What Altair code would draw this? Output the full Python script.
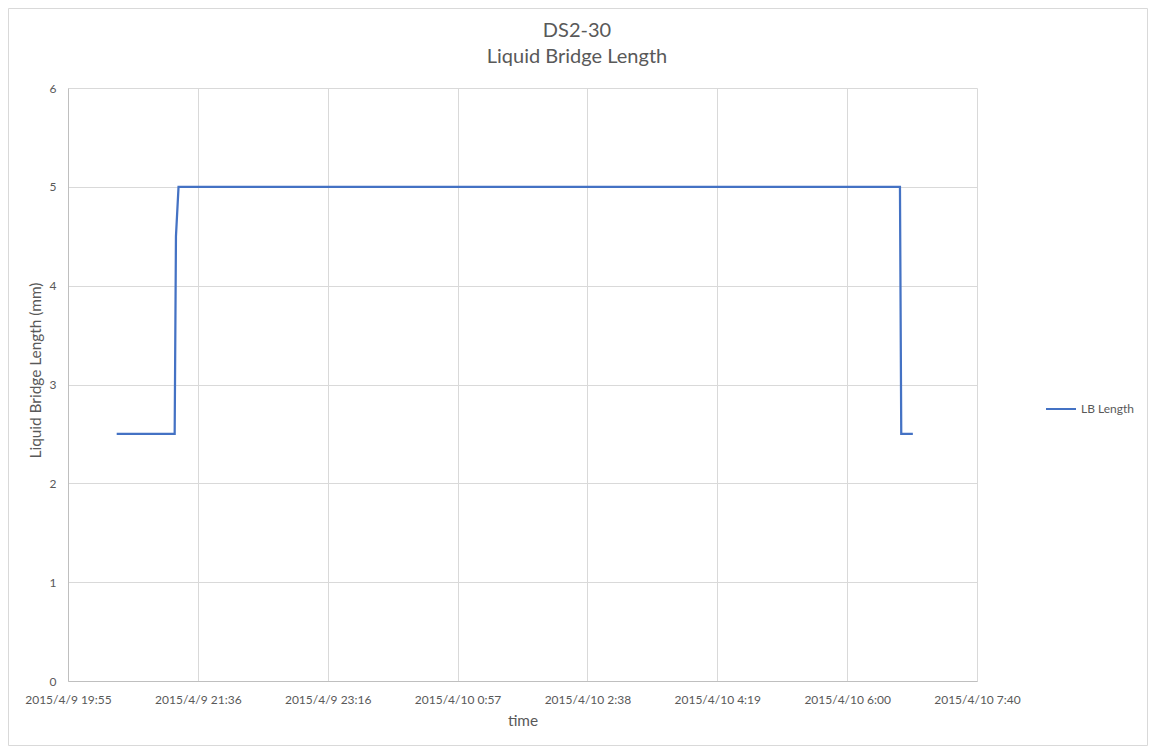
import altair as alt
import pandas as pd

# ---- data ----
times = [
    "2015-04-09T20:33:00Z",
    "2015-04-09T21:18:00Z",
    "2015-04-09T21:19:00Z",
    "2015-04-09T21:21:00Z",
    "2015-04-10T06:41:00Z",
    "2015-04-10T06:42:00Z",
    "2015-04-10T06:51:00Z",
]
lb_length = [2.5, 2.5, 4.5, 5.0, 5.0, 2.5, 2.5]
series_name = "LB Length"

x_tick_times = [
    "2015-04-09T19:55:12Z",
    "2015-04-09T21:36:00Z",
    "2015-04-09T23:16:48Z",
    "2015-04-10T00:57:36Z",
    "2015-04-10T02:38:24Z",
    "2015-04-10T04:19:12Z",
    "2015-04-10T06:00:00Z",
    "2015-04-10T07:40:48Z",
]
y_ticks = [0, 1, 2, 3, 4, 5, 6]
title_lines = ["DS2-30", "Liquid Bridge Length"]

FONT = "Lato"
TEXT = "#595959"
GRID = "#d9d9d9"
AXIS = "#bfbfbf"
LINE = "#4472C4"

W, H = 909, 593
PAD = {"left": 60, "top": 80, "right": 171, "bottom": 65}

df = pd.DataFrame({"time": times, "value": lb_length, "series": [series_name] * len(times)})

tick_ms = [int(pd.Timestamp(t).value // 10**6) for t in x_tick_times]
domain_ms = [tick_ms[0], tick_ms[-1]]

line = alt.Chart(df).mark_line(strokeWidth=2.25, clip=False).encode(
    x=alt.X(
        "time:T",
        scale=alt.Scale(type="utc", domain=domain_ms, nice=False),
        axis=alt.Axis(
            values=tick_ms,
            labelExpr="utcFormat(datum.value, '%Y/%-m/%-d %-H:%M')",
            title="time",
            grid=True,
            gridColor=GRID,
            domainColor=AXIS,
            ticks=False,
            labelPadding=13,
            titlePadding=8,
            labelFlush=False,
            labelOverlap=False,
        ),
    ),
    y=alt.Y(
        "value:Q",
        scale=alt.Scale(domain=[0, 6], nice=False),
        axis=alt.Axis(
            values=y_ticks,
            title="Liquid Bridge Length (mm)",
            grid=True,
            gridColor=GRID,
            domainColor=AXIS,
            ticks=False,
            labelPadding=12,
            titleX=-25,
            titleY=282,
        ),
    ),
    color=alt.Color(
        "series:N",
        scale=alt.Scale(domain=[series_name], range=[LINE]),
        legend=alt.Legend(
            title=None,
            orient="none",
            legendX=977,
            legendY=305,
            symbolType="stroke",
            symbolSize=900,
            symbolStrokeWidth=2,
            labelFontSize=12,
            labelColor=TEXT,
            labelFont=FONT,
            padding=0,
        ),
    ),
)

border = alt.Chart(pd.DataFrame({"a": [0]})).mark_rect(
    fill=None, stroke=GRID, strokeWidth=1, clip=False
).encode(
    x=alt.value(-PAD["left"] + 0.5),
    x2=alt.value(W + PAD["right"] - 0.5),
    y=alt.value(-PAD["top"] + 0.5),
    y2=alt.value(H + PAD["bottom"] - 0.5),
)

title = alt.Chart(pd.DataFrame({"a": [0]})).mark_text(
    font=FONT,
    fontSize=20,
    color=TEXT,
    align="center",
    baseline="alphabetic",
    lineHeight=26,
    clip=False,
).encode(
    x=alt.value(577 - 68),
    y=alt.value(37 - 88),
    text=alt.value(title_lines),
)

chart = (
    alt.layer(border, title, line)
    .properties(
        width=W,
        height=H,
        autosize=alt.AutoSizeParams(type="none"),
        padding=PAD,
    )
    .configure_view(stroke=None)
    .configure_axis(
        labelFont=FONT,
        titleFont=FONT,
        labelFontSize=12,
        titleFontSize=15.4,
        labelColor=TEXT,
        titleColor=TEXT,
        titleFontWeight="normal",
    )
)

chart.save("out.html", embed_options={"renderer": "svg", "actions": False})
